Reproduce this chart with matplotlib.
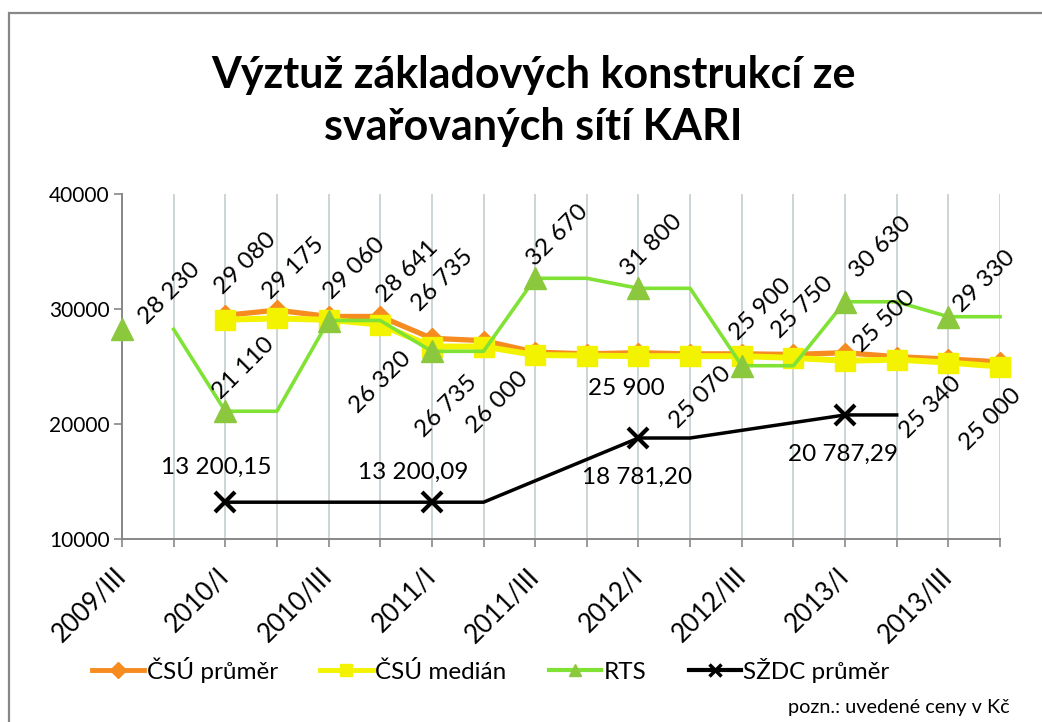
import matplotlib
matplotlib.use("Agg")
import numpy as np
import matplotlib.pyplot as plt
from matplotlib.lines import Line2D
from matplotlib.patches import Rectangle

# ---------------------------------------------------------------- data
quarters = ["2009/III", "2009/IV", "2010/I", "2010/II", "2010/III", "2010/IV",
            "2011/I", "2011/II", "2011/III", "2011/IV", "2012/I", "2012/II",
            "2012/III", "2012/IV", "2013/I", "2013/II", "2013/III", "2013/IV"]
nan = np.nan
csu_prumer = [nan, nan, 29450, 29900, 29350, 29350, 27450, 27250, 26250, 26100,
              26200, 26100, 26100, 26050, 26200, 25850, 25650, 25400]
csu_median = [nan, nan, 29080, 29175, 29060, 28641, 26735, 26735, 26000, 25950,
              25900, 25900, 25900, 25750, 25500, 25600, 25340, 25000]
rts = [28230, 28230, 21110, 21110, 29000, 29000, 26320, 26320, 32670, 32670,
       31800, 31800, 25070, 25070, 30630, 30630, 29330, 29330]
szdc = [nan, nan, 13200.15, 13200.15, 13200.15, 13200.15, 13200.09, 13200.09,
        nan, nan, 18781.20, 18781.20, nan, nan, 20787.29, 20787.29, nan, nan]
y_ticks = [10000, 20000, 30000, 40000]

series_names = ["ČSÚ průměr", "ČSÚ medián", "RTS", "SŽDC průměr"]
title_lines = ["Výztuž základových konstrukcí ze", "svařovaných sítí KARI"]
note = "pozn.: uvedené ceny v Kč"

# which points carry a marker
rts_marked = [0, 2, 4, 6, 8, 10, 12, 14, 16]
szdc_marked = [2, 6, 10, 14]

# value labels: series, point index, offset of label centre in px (x, y up), rotation
label_layout = [
    ("rts", 0, 48, 36, 45),
    ("med", 2, 20, 56, 45),
    ("med", 3, 17, 50, 45),
    ("med", 4, 26, 51, 45),
    ("med", 5, 27, 53, 45),
    ("med", 6, 11, 66, 45),
    ("rts", 8, 22, 43, 45),
    ("rts", 10, 13, 43, 45),
    ("med", 12, 19, 47, 45),
    ("med", 13, 9, 51, 45),
    ("rts", 14, 35, 54, 45),
    ("med", 14, 40, 40, 45),
    ("rts", 16, 36, 35, 45),
    ("rts", 2, 18, 43, 45),
    ("rts", 6, -51, -31, 45),
    ("med", 7, -37, -60, 45),
    ("med", 8, -38, -47, 45),
    ("rts", 12, -41, -32, 45),
    ("med", 16, -18, -45, 45),
    ("med", 17, -9, -53, 45),
    ("med", 10, -12, -32, 0),
    ("szdc", 2, -9, 35, 0),
    ("szdc", 6, -19, 30, 0),
    ("szdc", 10, -1, -39, 0),
    ("szdc", 14, -2, -39, 0),
]

# ---------------------------------------------------------------- style
FONT = "Lato"
plt.rcParams["font.family"] = [FONT, "DejaVu Sans"]

C_ORANGE = "#F68B1F"
C_YELLOW = "#F3F300"
C_GREEN_LINE = "#80E234"
C_GREEN_MARK = "#8CC83E"
C_BLACK = "#000000"
C_AXIS = "#878787"
C_GRID = "#C9D1D4"

W, H = 1042, 722
fig = plt.figure(figsize=(W / 100, H / 100), dpi=100)
fig.patch.set_facecolor("white")

# chart frame (left and top edges visible)
fig.patches.append(Rectangle((9 / W, -0.2), 1.2, 1.2 - 13 / H,
                             transform=fig.transFigure, fill=False,
                             edgecolor=C_AXIS, lw=1.6, zorder=0))

px_l, px_r, px_t, px_b = 122, 1000, 194, 539
ax = fig.add_axes([px_l / W, 1 - px_b / H, (px_r - px_l) / W, (px_b - px_t) / H])

x = np.arange(len(quarters))

def fmt(v):
    if abs(v - round(v)) > 1e-6:
        s = f"{v:,.2f}"
    else:
        s = f"{v:,.0f}"
    return s.replace(",", " ").replace(".", ",")

# ČSÚ průměr
ax.plot(x, csu_prumer, color=C_ORANGE, lw=3.8, marker="D", ms=10.5,
        mfc=C_ORANGE, mec=C_ORANGE, zorder=3, solid_joinstyle="round",
        clip_on=False)
# ČSÚ medián
ax.plot(x, csu_median, color=C_YELLOW, lw=4.3, marker="s", ms=15,
        mfc=C_YELLOW, mec=C_YELLOW, zorder=4, solid_joinstyle="round",
        clip_on=False)
# RTS: line starts from the second quarter, markers on half-year points
ax.plot(x[1:], rts[1:], color=C_GREEN_LINE, lw=2.6, zorder=5,
        solid_joinstyle="round", clip_on=False)
ax.plot(x[rts_marked], np.array(rts)[rts_marked], ls="none", marker="^",
        ms=15.5, mfc=C_GREEN_MARK, mec=C_GREEN_MARK, zorder=5, clip_on=False)
# SŽDC průměr: gaps bridged by straight segments
szdc_arr = np.array(szdc)
ok = ~np.isnan(szdc_arr)
ax.plot(x[ok], szdc_arr[ok], color=C_BLACK, lw=2.5, zorder=6,
        solid_joinstyle="round", clip_on=False)
ax.plot(x[szdc_marked], szdc_arr[szdc_marked], ls="none", marker="x",
        ms=14, mew=3.0, color=C_BLACK, zorder=6, clip_on=False)

series_values = {"med": csu_median, "rts": rts, "szdc": szdc,
                 "avg": csu_prumer}
for key, i, dx, dy, rot in label_layout:
    v = series_values[key][i]
    ax.annotate(fmt(v), xy=(x[i], v), xytext=(dx, dy),
                textcoords="offset pixels", ha="center", va="center",
                rotation=rot, rotation_mode="anchor", fontsize=17.5,
                color="black", zorder=8, annotation_clip=False)

# axes
ax.set_xlim(0, len(quarters) - 1)
ax.set_ylim(y_ticks[0], y_ticks[-1])
ax.set_yticks(y_ticks)
ax.set_yticklabels([str(t) for t in y_ticks])
ax.set_xticks(x)
ax.set_xticklabels([q if k % 2 == 0 else "" for k, q in enumerate(quarters)])
for side in ("top", "right"):
    ax.spines[side].set_visible(False)
for side in ("left", "bottom"):
    ax.spines[side].set_color(C_AXIS)
    ax.spines[side].set_linewidth(1.4)
ax.tick_params(axis="y", direction="out", length=6, width=1.2, color=C_AXIS,
               labelsize=15, pad=3)
ax.tick_params(axis="x", direction="out", length=6, width=1.2, color=C_AXIS,
               labelsize=18.5, pad=18)
for lbl in ax.get_xticklabels():
    lbl.set_rotation(45)
    lbl.set_ha("right")
    lbl.set_va("center")
    lbl.set_rotation_mode("anchor")
ax.xaxis.grid(True, color=C_GRID, lw=1.3)
ax.yaxis.grid(False)
ax.set_axisbelow(True)

# title
fig.text(533 / W, 1 - 88 / H, title_lines[0], ha="center", va="baseline",
         fontsize=31, fontweight="bold")
fig.text(533 / W, 1 - 140 / H, title_lines[1], ha="center", va="baseline",
         fontsize=31, fontweight="bold")

# legend
handles = [
    Line2D([], [], color=C_ORANGE, lw=3.5, marker="D", ms=8, mfc=C_ORANGE, mec=C_ORANGE),
    Line2D([], [], color=C_YELLOW, lw=3.5, marker="s", ms=9, mfc=C_YELLOW, mec=C_YELLOW),
    Line2D([], [], color=C_GREEN_LINE, lw=3.0, marker="^", ms=9, mfc=C_GREEN_MARK, mec=C_GREEN_MARK),
    Line2D([], [], color=C_BLACK, lw=3.0, marker="x", ms=8, mew=2.5),
]
fig.legend(handles, series_names, loc="center left",
           bbox_to_anchor=(92 / W, 1 - 670 / H), ncol=4, frameon=False,
           fontsize=17.5, handlelength=2.15, handletextpad=0.1,
           columnspacing=1.75, borderpad=0, borderaxespad=0)

fig.text(1010 / W, 1 - 707 / H, note, ha="right", va="center", fontsize=14.3)

fig.savefig("out.png", dpi=100, facecolor="white")
